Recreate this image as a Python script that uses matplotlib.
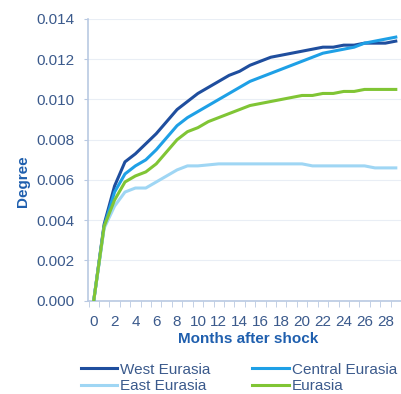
import numpy as np
import matplotlib.pyplot as plt

plt.rcParams['font.family'] = ['Liberation Sans', 'DejaVu Sans']

months = list(range(0, 30))
west = [0.0, 0.0038, 0.0057, 0.0069, 0.0073, 0.0078, 0.0083, 0.0089, 0.0095, 0.0099,
        0.0103, 0.0106, 0.0109, 0.0112, 0.0114, 0.0117, 0.0119, 0.0121, 0.0122, 0.0123,
        0.0124, 0.0125, 0.0126, 0.0126, 0.0127, 0.0127, 0.0128, 0.0128, 0.0128, 0.0129]
central = [0.0, 0.0037, 0.0054, 0.0063, 0.0067, 0.0070, 0.0075, 0.0081, 0.0087, 0.0091,
           0.0094, 0.0097, 0.0100, 0.0103, 0.0106, 0.0109, 0.0111, 0.0113, 0.0115, 0.0117,
           0.0119, 0.0121, 0.0123, 0.0124, 0.0125, 0.0126, 0.0128, 0.0129, 0.0130, 0.0131]
east = [0.0, 0.0036, 0.0047, 0.0054, 0.0056, 0.0056, 0.0059, 0.0062, 0.0065, 0.0067,
        0.0067, 0.00675, 0.0068, 0.0068, 0.0068, 0.0068, 0.0068, 0.0068, 0.0068, 0.0068,
        0.0068, 0.0067, 0.0067, 0.0067, 0.0067, 0.0067, 0.0067, 0.0066, 0.0066, 0.0066]
eurasia = [0.0, 0.0037, 0.0050, 0.0059, 0.0062, 0.0064, 0.0068, 0.0074, 0.0080, 0.0084,
           0.0086, 0.0089, 0.0091, 0.0093, 0.0095, 0.0097, 0.0098, 0.0099, 0.0100, 0.0101,
           0.0102, 0.0102, 0.0103, 0.0103, 0.0104, 0.0104, 0.0105, 0.0105, 0.0105, 0.0105]

series = [("West Eurasia", west, '#1f4e9e'),
          ("Central Eurasia", central, '#1ea0e6'),
          ("East Eurasia", east, '#9fd6f4'),
          ("Eurasia", eurasia, '#80c535')]

text_color = '#3b5a8c'
label_color = '#1f5fae'

fig = plt.figure(figsize=(4.01, 3.94), dpi=100)
ax = fig.add_axes([88 / 401, 1 - 300.7 / 394, 313 / 401, 281.7 / 394])

for name, vals, col in series:
    ax.plot(months, vals, color=col, lw=2.2, label=name, zorder=3)

ax.set_ylim(0, 0.014)
ax.set_xlim(-0.55, (401 - 94) / 10.75)
ax.set_yticks(np.arange(0, 0.0141, 0.002))
ax.set_yticklabels([f"{v:.3f}" for v in np.arange(0, 0.0141, 0.002)])
ax.set_xticks(range(0, 30, 2))
ax.set_xticks(np.arange(-0.5, 30, 1), minor=True)
ax.grid(axis='y', color='#e9eef5', lw=0.8, zorder=0)

for s in ['top', 'right']:
    ax.spines[s].set_visible(False)
for s in ['left', 'bottom']:
    ax.spines[s].set_color('#b9c9e2')
    ax.spines[s].set_linewidth(1.2)

ax.tick_params(axis='y', colors='#b9c9e2', labelcolor=text_color, labelsize=11,
               length=3, pad=7)
ax.tick_params(axis='x', which='major', length=0, labelcolor=text_color,
               labelsize=11, pad=10)
ax.tick_params(axis='x', which='minor', length=4, color='#b9c9e2')

ax.set_xlabel("Months after shock", fontsize=11, fontweight='bold',
              color=label_color)
ax.xaxis.set_label_coords((248 - 88) / 313, -(339 - 300.7) / 281.7)
ax.xaxis.label.set_va('center')
fig.text(23 / 401, 1 - 181.5 / 394, "Degree", rotation=90, ha='center',
         va='center', fontsize=11, fontweight='bold', color=label_color)

handles, labels = ax.get_legend_handles_labels()
order = [0, 2, 1, 3]
fig.legend([handles[i] for i in order], [labels[i] for i in order],
           loc='upper left', bbox_to_anchor=(73 / 401, 1 - 355 / 394), ncol=2,
           frameon=False, fontsize=11, handlelength=2.4, handletextpad=0.2,
           columnspacing=2.7, labelspacing=0.15, borderpad=0,
           labelcolor=text_color)

fig.savefig("out.png", dpi=100)
